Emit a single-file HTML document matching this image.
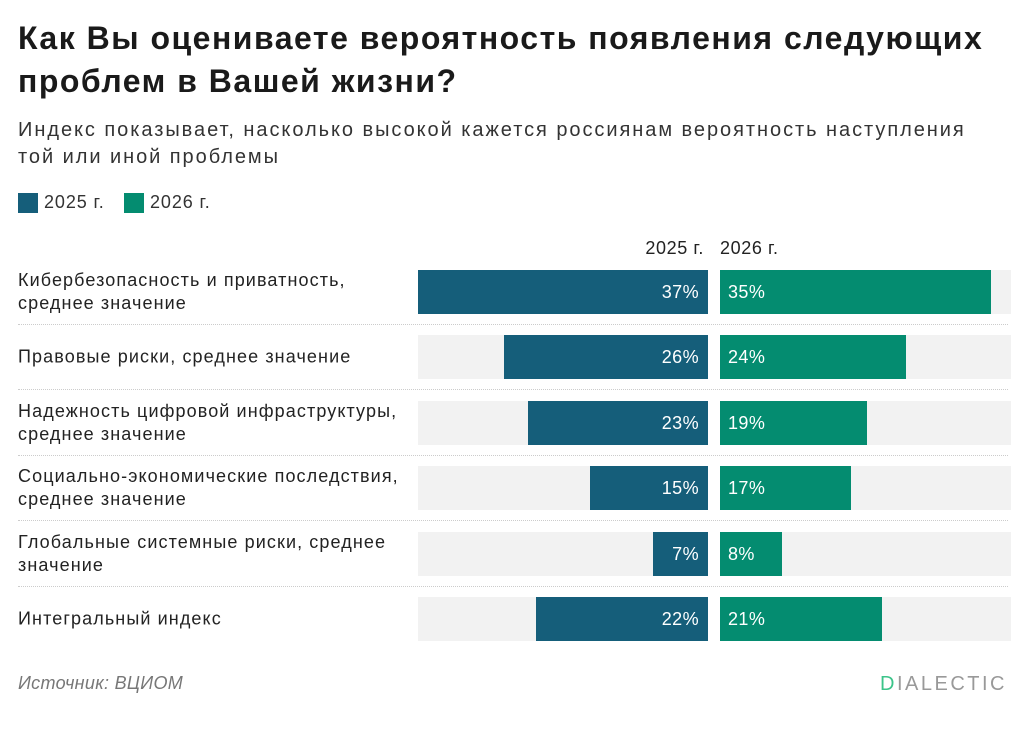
<!DOCTYPE html>
<html><head><meta charset="utf-8"><style>
body{margin:0;width:1024px;height:742px;background:#fff;font-family:"Liberation Sans","Noto Sans CJK SC",sans-serif;color:#222;position:relative;overflow:hidden}
.t{position:absolute;white-space:nowrap}
</style></head><body>
<div class="t" style="left:18px;top:17px;font-size:32px;letter-spacing:1.5px;font-weight:bold;line-height:43px;color:#1a1a1a">Как Вы оцениваете вероятность появления следующих<br>проблем в Вашей жизни?</div>
<div class="t" style="left:18px;top:117px;font-size:20px;letter-spacing:1.95px;line-height:27px;color:#333">Индекс показывает, насколько высокой кажется россиянам вероятность наступления<br>той или иной проблемы</div>
<div style="position:absolute;left:18px;top:193px;width:20px;height:20px;background:#155e7a"></div>
<div class="t" style="left:44px;top:192px;font-size:18px;letter-spacing:0.9px;color:#333">2025 г.</div>
<div style="position:absolute;left:124px;top:193px;width:20px;height:20px;background:#048c70"></div>
<div class="t" style="left:150px;top:192px;font-size:18px;letter-spacing:0.9px;color:#333">2026 г.</div>
<div class="t" style="right:320px;top:238px;font-size:18px;letter-spacing:0.6px;color:#222">2025 г.</div>
<div class="t" style="left:720px;top:238px;font-size:18px;letter-spacing:0.6px;color:#222">2026 г.</div>
<div class="t" style="left:18px;top:673px;font-size:18px;letter-spacing:0.3px;font-style:italic;color:#777">Источник: ВЦИОМ</div>
<div class="t" style="right:17px;top:673px;font-size:20px;letter-spacing:2.5px;color:#999"><span style="color:#3cc48a">D</span>IALECTIC</div>
<div id="chart"></div>
<script>
const categories=["Кибербезопасность и приватность,<br>среднее значение","Правовые риски, среднее значение","Надежность цифровой инфраструктуры,<br>среднее значение","Социально-экономические последствия,<br>среднее значение","Глобальные системные риски, среднее<br>значение","Интегральный индекс"];
const values2025=[37,26,23,15,7,22];
const values2026=[35,24,19,17,8,21];
const maxVal=37;
const c=document.getElementById('chart');
const L0=418,L1=708,R0=720,R1=1006,rowTop=270,pitch=65.4,bh=44;
const sx=v=>v/maxVal*(L1-L0);
const sxr=v=>v/maxVal*(R1-R0);
function box(css){const d=document.createElement('div');d.style.cssText='position:absolute;'+css;c.appendChild(d);return d;}
categories.forEach((cat,i)=>{
  const y=rowTop+i*pitch;
  const g1=box(`left:${L0}px;top:${y}px;width:${L1-L0}px;height:${bh}px;background:#f2f2f2`);
  
  
  const g2=box(`left:${R0}px;top:${y}px;width:${R1-R0+5}px;height:${bh}px;background:#f2f2f2`);
  
  
  const w1=sx(values2025[i]);
  const b1=box(`left:${L1-w1}px;top:${y}px;width:${w1}px;height:${bh}px;background:#155e7a;color:#fff;font-size:18px;letter-spacing:0.4px;line-height:${bh}px;text-align:right;box-sizing:border-box;padding-right:9px`);
  b1.textContent=values2025[i]+'%';
  
  
  const w2=sxr(values2026[i]);
  const b2=box(`left:${R0}px;top:${y}px;width:${w2}px;height:${bh}px;background:#048c70;color:#fff;font-size:18px;letter-spacing:0.4px;line-height:${bh}px;box-sizing:border-box;padding-left:8px;white-space:nowrap`);
  b2.textContent=values2026[i]+'%';
  
  
  const lab=box(`left:18px;top:${y+bh/2}px;transform:translateY(-50%);font-size:18px;letter-spacing:1.1px;line-height:23px;color:#222;white-space:nowrap`);
  lab.innerHTML=cat;
  
  
  if(i<categories.length-1){
    const s=box(`left:18px;top:${y+bh+10}px;width:990px;height:0;border-top:1px dotted #ccc`);
    
    
  }
});
</script>
</body></html>
